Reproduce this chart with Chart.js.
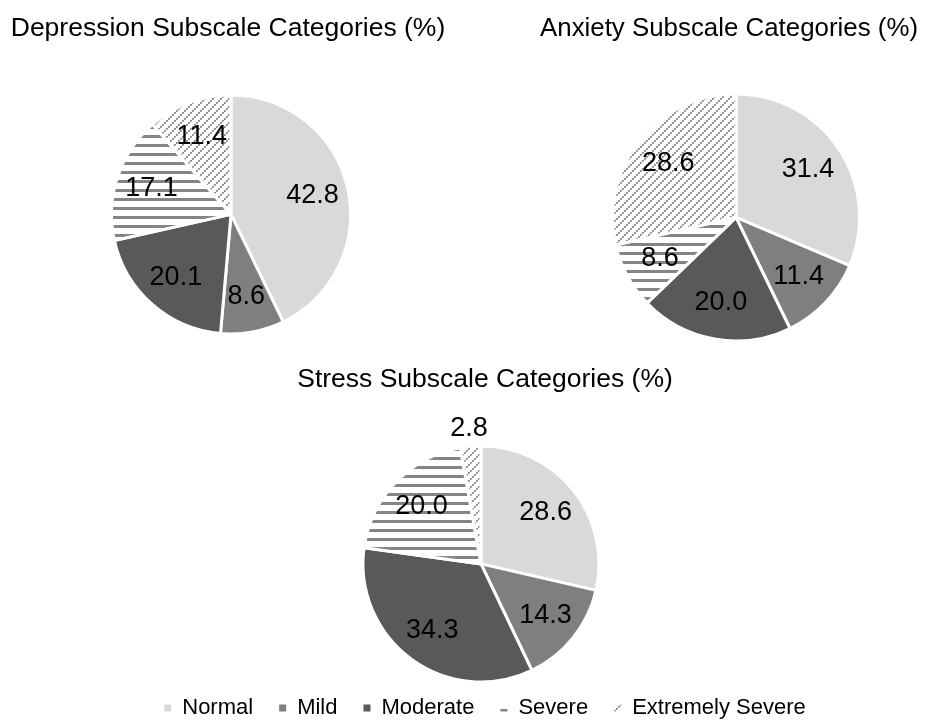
<!DOCTYPE html>
<html>
<head>
<meta charset="utf-8">
<title>DASS-21 Subscale Categories</title>
<script src="https://cdn.jsdelivr.net/npm/chart.js@4.4.1/dist/chart.umd.min.js"></script>
<style>
  html, body { margin: 0; padding: 0; background: #fff; overflow: hidden; }
  #stage { position: relative; width: 936px; height: 722px; overflow: hidden; }
  canvas { position: absolute; }
</style>
</head>
<body>
<div id="stage">
  <canvas id="depression" width="456" height="400" style="left:0;top:0;width:456px;height:400px"></canvas>
  <canvas id="anxiety" width="378" height="400" style="left:540px;top:0;width:378px;height:400px"></canvas>
  <canvas id="stress" width="902" height="389" style="left:34px;top:340px;width:902px;height:389px"></canvas>
</div>
<script>
// Category names and percentage shares per subscale
const categories = ['Normal', 'Mild', 'Moderate', 'Severe', 'Extremely Severe'];
const depressionPct = [42.8, 8.6, 20.1, 17.1, 11.4];
const anxietyPct = [31.4, 11.4, 20.0, 8.6, 28.6];
const stressPct = [28.6, 14.3, 34.3, 20.0, 2.8];
const titles = {
  depression: 'Depression Subscale Categories (%)',
  anxiety: 'Anxiety Subscale Categories (%)',
  stress: 'Stress Subscale Categories (%)'
};

const FONT = '"Liberation Sans", Arial, Helvetica, sans-serif';

// Hatch fills for the two most severe categories
function stripePattern() {
  const c = document.createElement('canvas');
  c.width = 8; c.height = 9;
  const g = c.getContext('2d');
  g.fillStyle = '#ffffff'; g.fillRect(0, 0, 8, 9);
  g.fillStyle = '#858585'; g.fillRect(0, 0, 8, 3);
  return g.createPattern(c, 'repeat');
}
function diagonalPattern() {
  const c = document.createElement('canvas');
  c.width = 8; c.height = 8;
  const g = c.getContext('2d');
  g.fillStyle = '#ffffff'; g.fillRect(0, 0, 8, 8);
  g.fillStyle = '#8e8e8e';
  for (let t = 0; t < 8; t += 2) g.fillRect(t, 6 - t, 2, 2);
  g.fillStyle = '#c4c4c4';
  for (let t = 0; t < 8; t += 2) g.fillRect(t + 1, 7 - t, 1, 1);
  return g.createPattern(c, 'repeat');
}

const fills = ['#d9d9d9', '#7f7f7f', '#595959', stripePattern(), diagonalPattern()];

// Moves the plotting area sideways so the pie can sit off the title's centre
const pieShift = {
  id: 'pieShift',
  afterLayout(chart, args, opts) {
    const dx = opts.x || 0;
    chart.chartArea.left += dx;
    chart.chartArea.right += dx;
  }
};

// Value labels inside each slice; very thin slices get their label outside the rim
const sliceLabels = {
  id: 'sliceLabels',
  afterDatasetsDraw(chart) {
    const ctx = chart.ctx;
    const meta = chart.getDatasetMeta(0);
    const values = chart.data.datasets[0].data;
    ctx.save();
    ctx.font = '27px ' + FONT;
    ctx.fillStyle = '#000';
    ctx.textAlign = 'center';
    ctx.textBaseline = 'middle';
    meta.data.forEach((arc, i) => {
      const p = arc.getProps(['x', 'y', 'startAngle', 'endAngle', 'outerRadius'], true);
      const mid = (p.startAngle + p.endAngle) / 2;
      const share = (p.endAngle - p.startAngle) / (2 * Math.PI);
      const r = p.outerRadius * (share < 0.05 ? 1.15 : 0.7);
      ctx.fillText(values[i].toFixed(1), p.x + Math.cos(mid) * r, p.y + Math.sin(mid) * r);
    });
    ctx.restore();
  }
};

function makePie(id, values, title, cfg) {
  return new Chart(document.getElementById(id), {
    type: 'pie',
    data: {
      labels: categories,
      datasets: [{
        data: values,
        backgroundColor: fills,
        borderColor: '#ffffff',
        borderWidth: 3,
        radius: cfg.radius
      }]
    },
    options: {
      responsive: false,
      animation: false,
      events: [],
      layout: { padding: cfg.padding },
      plugins: {
        title: {
          display: true,
          text: title,
          color: '#000',
          font: { family: FONT, size: 26.5, weight: 'normal', lineHeight: 1.2 },
          padding: cfg.titlePadding
        },
        legend: cfg.legend ? {
          display: true,
          position: 'bottom',
          labels: {
            font: { family: FONT, size: 22 },
            color: '#000',
            boxWidth: 7,
            boxHeight: 7,
            padding: 26,
            generateLabels(chart) {
              const ds = chart.data.datasets[0];
              return chart.data.labels.map((text, i) => ({
                text,
                fillStyle: ds.backgroundColor[i],
                strokeStyle: 'rgba(0,0,0,0)',
                lineWidth: 0,
                fontColor: '#000',
                hidden: false,
                index: i
              }));
            }
          }
        } : { display: false },
        tooltip: { enabled: false },
        pieShift: { x: cfg.shiftX }
      }
    },
    plugins: [pieShift, sliceLabels]
  });
}

makePie('depression', depressionPct, titles.depression, {
  radius: 119.5, padding: { top: 0, bottom: 16, left: 0, right: 0 },
  titlePadding: { top: 13, bottom: 0 }, shiftX: 3, legend: false
});
makePie('anxiety', anxietyPct, titles.anxiety, {
  radius: 123.5, padding: { top: 0, bottom: 10, left: 0, right: 0 },
  titlePadding: { top: 13, bottom: 0 }, shiftX: 7, legend: false
});
makePie('stress', stressPct, titles.stress, {
  radius: 118, padding: { top: 0, bottom: 0, left: 0, right: 0 },
  titlePadding: { top: 24, bottom: 61 }, shiftX: -4, legend: true
});
</script>
</body>
</html>
